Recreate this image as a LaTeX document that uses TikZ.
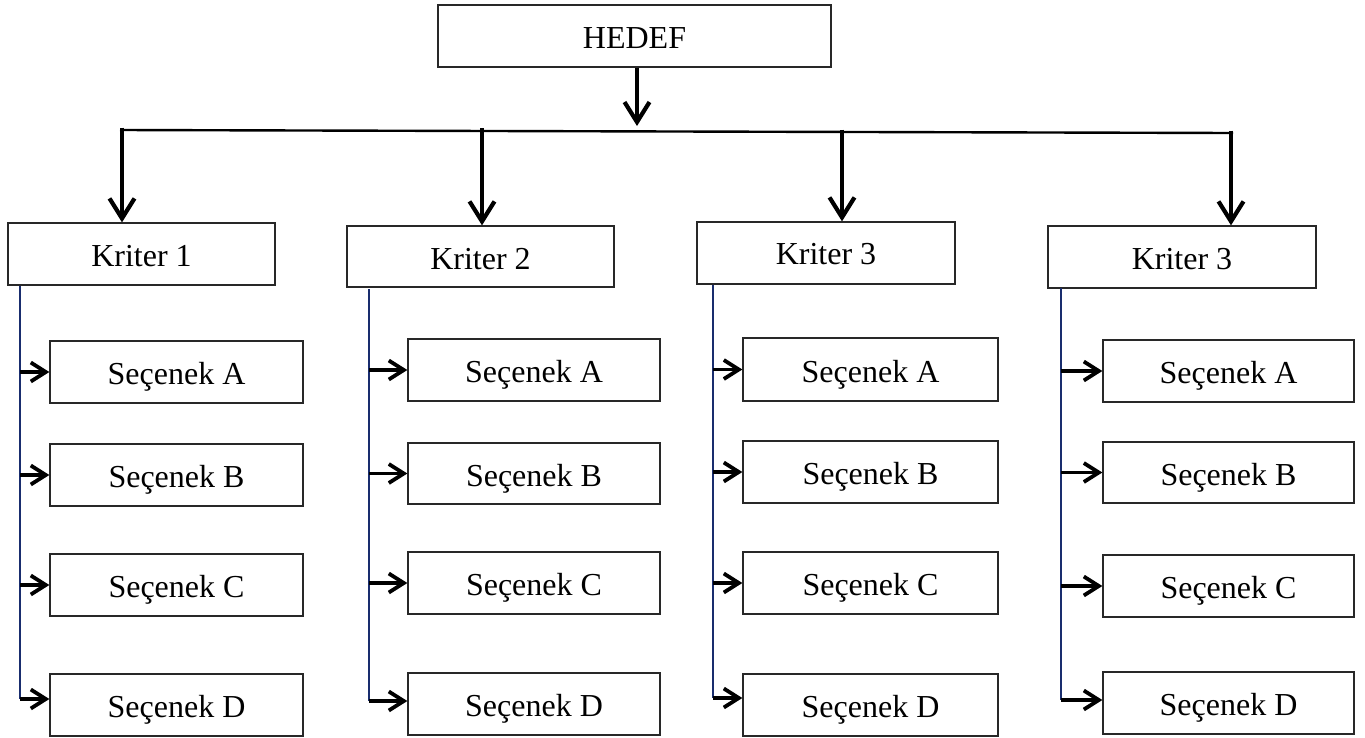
\documentclass[tikz,border=0pt]{standalone}
\usepackage{fontspec}
\setmainfont{Liberation Serif}
\usetikzlibrary{arrows.meta}
\definecolor{navyline}{RGB}{25,45,110}
\definecolor{boxline}{RGB}{40,40,40}
\tikzset{
  box/.style={draw=boxline, line width=1.3pt, rectangle, inner sep=0pt,
    font=\fontsize{32}{37}\selectfont, text height=27pt, text depth=1.5pt},
  bigarr/.style={line width=4pt, -{Straight Barb[length=20pt,width=25pt,line width=4.2pt]}},
  smallarr/.style={line width=3.5pt, -{Straight Barb[length=15pt,width=19pt,line width=3.8pt]}},
  barline/.style={line width=2.4pt},
  blueline/.style={draw=navyline, line width=1.8pt}
}
\begin{document}
\begin{tikzpicture}[x=1pt,y=-1pt]
\useasboundingbox (0,0) rectangle (1365,737);
% top
\node[box, minimum width=393pt, minimum height=62pt] (h) at (634.5,36) {HEDEF};
\coordinate (hb) at (637,126);
\coordinate (bl) at (120,130);
\coordinate (br) at (1233,133);
\draw[barline] (bl) -- (br);
\draw[bigarr] (h.south -| hb) -- (hb);
% criteria
\node[box, minimum width=267pt, minimum height=62pt] (k1) at (141.5,254) {Kriter 1};
\node[box, minimum width=267pt, minimum height=61pt] (k2) at (480.5,256.5) {Kriter 2};
\node[box, minimum width=258pt, minimum height=62pt, text height=25pt] (k3) at (826,253) {Kriter 3};
\node[box, minimum width=268pt, minimum height=62pt] (k4) at (1182,257) {Kriter 3};
\coordinate (t1) at (122,127.5);
\coordinate (t2) at (482,128);
\coordinate (t3) at (842,129.5);
\coordinate (t4) at (1231,130.5);
\foreach \i in {1,2,3,4}{
  \draw[bigarr] (t\i) -- (t\i |- k\i.north);
}
% options column 1
\node[box, minimum width=253pt, minimum height=62pt] (a1) at (176.5,372) {Seçenek A};
\node[box, minimum width=253pt, minimum height=62pt] (b1) at (176.5,475) {Seçenek B};
\node[box, minimum width=253pt, minimum height=62pt] (c1) at (176.5,585) {Seçenek C};
\node[box, minimum width=253pt, minimum height=62pt] (d1) at (176.5,705) {Seçenek D};
% column 2
\node[box, minimum width=252pt, minimum height=62pt] (a2) at (534,370) {Seçenek A};
\node[box, minimum width=252pt, minimum height=61pt] (b2) at (534,473.5) {Seçenek B};
\node[box, minimum width=252pt, minimum height=62pt] (c2) at (534,583) {Seçenek C};
\node[box, minimum width=252pt, minimum height=62pt] (d2) at (534,704) {Seçenek D};
% column 3
\node[box, minimum width=255pt, minimum height=63pt] (a3) at (870.5,369.5) {Seçenek A};
\node[box, minimum width=255pt, minimum height=62pt] (b3) at (870.5,472) {Seçenek B};
\node[box, minimum width=255pt, minimum height=62pt] (c3) at (870.5,583) {Seçenek C};
\node[box, minimum width=255pt, minimum height=62pt] (d3) at (870.5,705) {Seçenek D};
% column 4
\node[box, minimum width=251pt, minimum height=62pt] (a4) at (1228.5,371) {Seçenek A};
\node[box, minimum width=251pt, minimum height=61pt] (b4) at (1228.5,472.5) {Seçenek B};
\node[box, minimum width=251pt, minimum height=62pt] (c4) at (1228.5,586) {Seçenek C};
\node[box, minimum width=251pt, minimum height=62pt] (d4) at (1228.5,703) {Seçenek D};
% blue spines
\coordinate (v1) at (20,286);   \coordinate (w1) at (20,699);
\coordinate (v2) at (369,289);  \coordinate (w2) at (369,701);
\coordinate (v3) at (713,285);  \coordinate (w3) at (713,698);
\coordinate (v4) at (1061,288); \coordinate (w4) at (1061,700);
\foreach \i in {1,2,3,4}{
  \draw[blueline] (v\i) -- (w\i);
  \draw[smallarr] (a\i.west -| v\i) -- (a\i.west);
  \draw[smallarr] (b\i.west -| v\i) -- (b\i.west);
  \draw[smallarr] (c\i.west -| v\i) -- (c\i.west);
  \draw[smallarr] (w\i) -- (w\i -| d\i.west);
}
\end{tikzpicture}
\end{document}
